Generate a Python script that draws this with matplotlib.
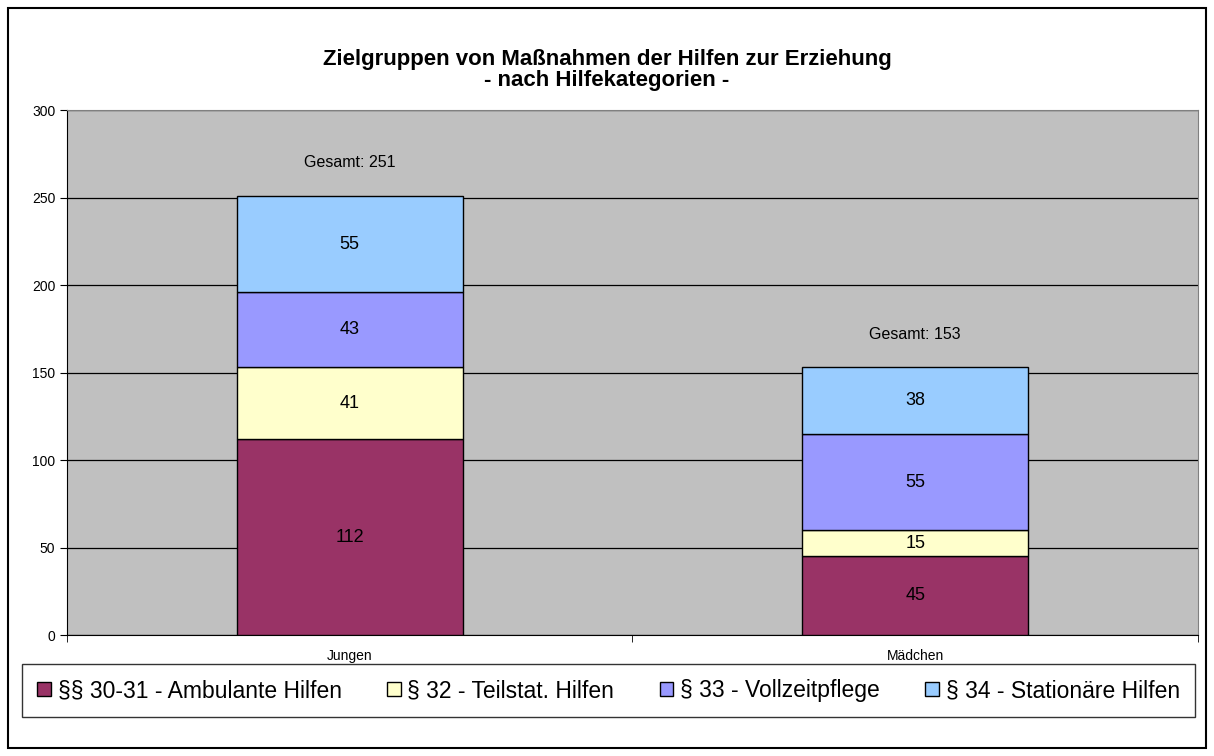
import numpy as np
import matplotlib.pyplot as plt
from matplotlib.patches import Rectangle

plt.rcParams['font.family'] = ['Liberation Sans', 'DejaVu Sans']

categories = ['Jungen', 'Mädchen']
series_names = ['§§ 30-31 - Ambulante Hilfen', '§ 32 - Teilstat. Hilfen',
                '§ 33 - Vollzeitpflege', '§ 34 - Stationäre Hilfen']
ambulant = [112, 45]
teilstat = [41, 15]
vollzeit = [43, 55]
stationaer = [55, 38]
totals = [251, 153]
colors = ['#993366', '#FFFFCC', '#9999FF', '#99CCFF']

fig = plt.figure(figsize=(12.14, 7.56), dpi=100)
ax = fig.add_axes([0.0552, 0.160, 0.9316, 0.694])
ax.set_facecolor('#C0C0C0')

x = np.arange(len(categories))
bottom = np.zeros(len(categories))
handles = []
for vals, name, col in zip([ambulant, teilstat, vollzeit, stationaer], series_names, colors):
    bars = ax.bar(x, vals, width=0.4, bottom=bottom, color=col, edgecolor='black',
                  linewidth=1, label=name, zorder=3)
    handles.append(bars)
    for xi, b, v in zip(x, bottom, vals):
        ax.text(xi, b + v / 2, str(v), ha='center', va='center', fontsize=13, zorder=4)
    bottom = bottom + np.array(vals)

for xi, t in zip(x, totals):
    ax.annotate('Gesamt: %d' % t, (xi, t), xytext=(0, 24), textcoords='offset points',
                ha='center', va='center', fontsize=11.5)

ax.set_xlim(-0.5, 1.5)
ax.set_ylim(0, 300)
ax.set_yticks(np.arange(0, 301, 50))
ax.yaxis.grid(True, color='black', linewidth=0.9, zorder=1)
ax.set_axisbelow(True)
ax.tick_params(axis='y', labelsize=10, length=5, direction='out')
ax.set_xticks(x)
ax.set_xticklabels(categories, fontsize=10)
ax.tick_params(axis='x', length=0, pad=10)
ax.set_xticks([-0.5, 0.5, 1.5], minor=True)
ax.tick_params(axis='x', which='minor', length=5, direction='out')
for s in ['top', 'right']:
    ax.spines[s].set_color('#808080')
for s in ['left', 'bottom']:
    ax.spines[s].set_color('black')

fig.text(0.5, 0.907, 'Zielgruppen von Maßnahmen der Hilfen zur Erziehung\n- nach Hilfekategorien -',
         ha='center', va='center', fontsize=16, fontweight='bold', linespacing=1.0)

leg = fig.legend(handles=handles, loc='lower left', ncol=4, mode='expand',
                 bbox_to_anchor=(22 / 1214, (756 - 717) / 756, 1173 / 1214, 55 / 756),
                 fontsize=16.5, frameon=True, fancybox=False, handlelength=0.6,
                 handleheight=0.6, handletextpad=0.3, borderaxespad=0, borderpad=0.65)
leg.get_frame().set_edgecolor('black')
leg.get_frame().set_linewidth(1)

fig.patches.append(Rectangle((8 / 1214, 8 / 756), 1198 / 1214, 740 / 756, transform=fig.transFigure,
                             fill=False, edgecolor='black', linewidth=1.5))

plt.savefig('out.png', dpi=100)
